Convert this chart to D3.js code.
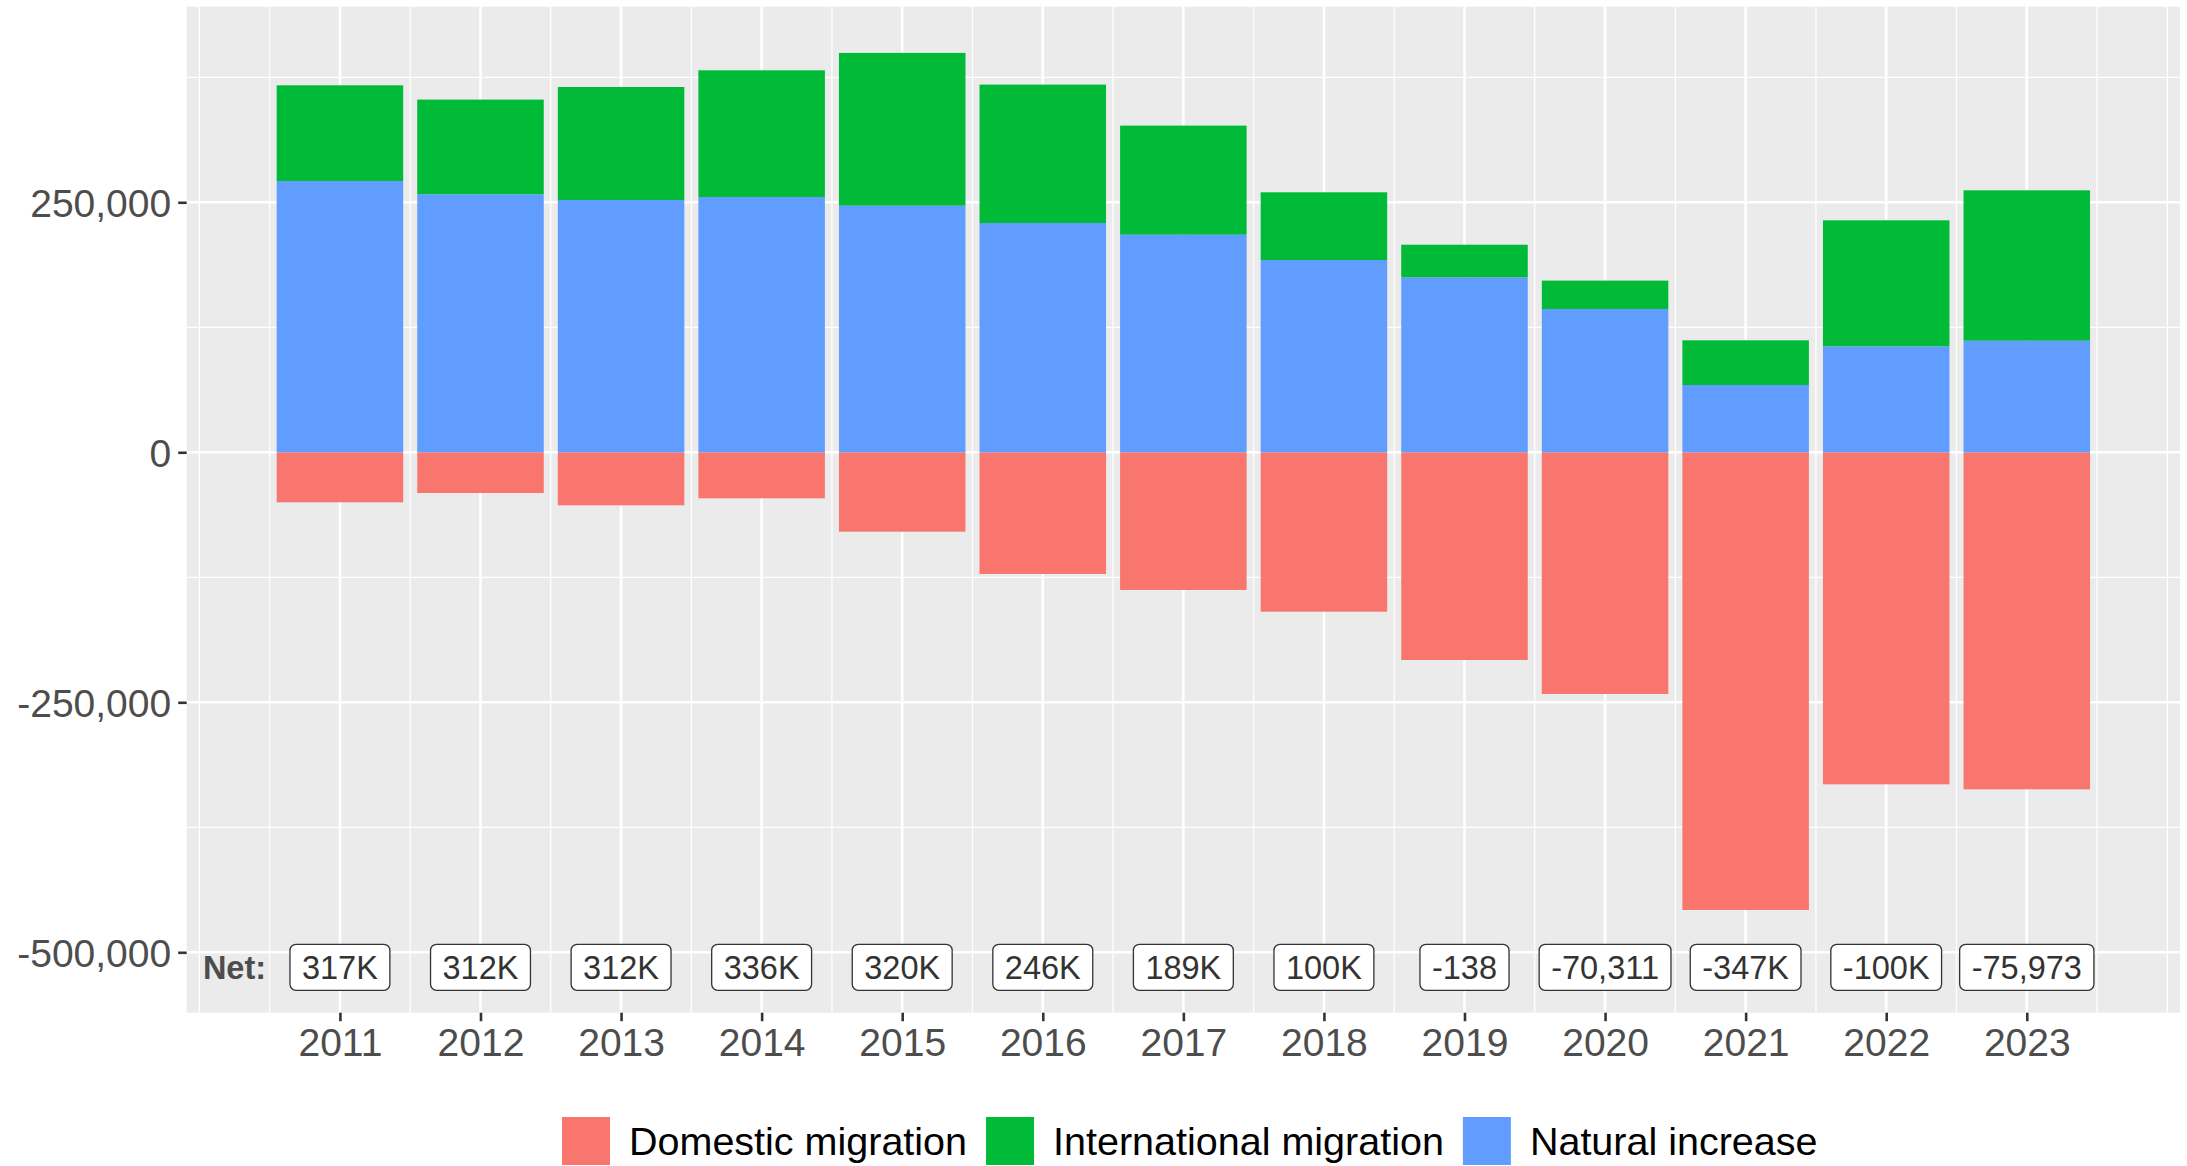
<!DOCTYPE html>
<html>
<head>
<meta charset="utf-8">
<script src="https://cdn.jsdelivr.net/npm/d3@7"></script>
<style>
  body { margin: 0; background: #fff; }
  text { font-family: "Liberation Sans", Arial, sans-serif; }
</style>
</head>
<body>
<script>
// data (people)
var years = [2011, 2012, 2013, 2014, 2015, 2016, 2017, 2018, 2019, 2020, 2021, 2022, 2023];
var naturalIncrease = [271300, 258000, 252300, 255300, 246600, 229300, 217600, 192300, 175000, 143300, 67300, 106000, 111600];
var internationalMigration = [95700, 94700, 113000, 126700, 152800, 138400, 109100, 67700, 32600, 28400, 44700, 126000, 150400];
var domesticMigration = [-50000, -40700, -53000, -46000, -79400, -121700, -137700, -159400, -207700, -241700, -457700, -332000, -337000];
var netLabels = ["317K", "312K", "312K", "336K", "320K", "246K", "189K", "100K", "-138", "-70,311", "-347K", "-100K", "-75,973"];
var seriesNames = ["Domestic migration", "International migration", "Natural increase"];
var seriesColors = ["#F8766D", "#00BA38", "#619CFF"];
var yTicks = [-500000, -250000, 0, 250000];
var yMinor = [-375000, -125000, 125000, 375000];

var W = 2187, H = 1166;
// panel edges ("top" is reserved on window, so prefixed names)
var pL = 186.7, pR = 2180, pT = 6.7, pB = 1012.7;

var svg = d3.select('body').append('svg')
    .attr('width', W)
    .attr('height', H);

var x = d3.scaleLinear().domain([2009.91, 2024.09]).range([pL, pR]);
var y = d3.scaleLinear().domain([-560400, 445600]).range([pB, pT]);
var color = d3.scaleOrdinal().domain(seriesNames).range(seriesColors);

// panel + grid
svg.append('rect')
    .attr('x', pL).attr('y', pT)
    .attr('width', pR - pL).attr('height', pB - pT)
    .attr('fill', '#EBEBEB');

var xMinor = [2010, 2024].concat(d3.range(2010.5, 2024, 1));
var grid = svg.append('g');
function hLines(vals, w) {
    grid.selectAll(null).data(vals).enter().append('line')
        .attr('x1', pL).attr('x2', pR)
        .attr('y1', function (d) { return y(d); }).attr('y2', function (d) { return y(d); })
        .attr('stroke', '#fff').attr('stroke-width', w);
}
function vLines(vals, w) {
    grid.selectAll(null).data(vals).enter().append('line')
        .attr('y1', pT).attr('y2', pB)
        .attr('x1', function (d) { return x(d); }).attr('x2', function (d) { return x(d); })
        .attr('stroke', '#fff').attr('stroke-width', w);
}
hLines(yMinor, 1.3);
vLines(xMinor, 1.3);
hLines(yTicks, 2.6);
vLines(years, 2.6);

// stacked bars
var segs = [];
years.forEach(function (yr, i) {
    var nat = naturalIncrease[i];
    segs.push({ year: yr, y0: domesticMigration[i], y1: 0, key: seriesNames[0] });
    segs.push({ year: yr, y0: 0, y1: nat, key: seriesNames[2] });
    segs.push({ year: yr, y0: nat, y1: nat + internationalMigration[i], key: seriesNames[1] });
});
var bw = x(2011.45) - x(2010.55);
svg.append('g').selectAll('rect').data(segs).enter().append('rect')
    .attr('x', function (d) { return x(d.year - 0.45); })
    .attr('width', bw)
    .attr('y', function (d) { return y(d.y1); })
    .attr('height', function (d) { return y(d.y0) - y(d.y1); })
    .attr('fill', function (d) { return color(d.key); });

// net labels
var netY = -515000;
var lab = svg.append('g');
lab.append('text')
    .attr('x', x(2010.25)).attr('y', y(netY))
    .attr('text-anchor', 'middle').attr('dy', '0.36em')
    .attr('font-size', 32.5).attr('font-weight', 'bold').attr('fill', '#4D4D4D')
    .text('Net:');
years.forEach(function (yr, i) {
    var g = lab.append('g');
    var t = g.append('text')
        .attr('x', x(yr)).attr('y', y(netY))
        .attr('text-anchor', 'middle').attr('dy', '0.36em')
        .attr('font-size', 32.5).attr('fill', '#333')
        .text(netLabels[i]);
    var tw = t.node().getComputedTextLength();
    g.insert('rect', 'text')
        .attr('x', x(yr) - tw / 2 - 12).attr('y', y(netY) - 23)
        .attr('width', tw + 24).attr('height', 46)
        .attr('rx', 6).attr('ry', 6)
        .attr('fill', '#fff').attr('stroke', '#333').attr('stroke-width', 1.3);
});

// axes
var comma = d3.format(',');
var yAxis = svg.append('g')
    .attr('transform', 'translate(' + pL + ',0)')
    .call(d3.axisLeft(y).tickValues(yTicks).tickSize(8.5).tickPadding(7)
        .tickFormat(function (d) { return comma(d).replace('\u2212', '-'); }));
var xAxis = svg.append('g')
    .attr('transform', 'translate(0,' + pB + ')')
    .call(d3.axisBottom(x).tickValues(years).tickSize(8.5).tickPadding(7).tickFormat(d3.format('d')));
[yAxis, xAxis].forEach(function (a) {
    a.select('.domain').remove();
    a.selectAll('.tick line').attr('stroke', '#333').attr('stroke-width', 2.6);
    a.selectAll('.tick text').attr('fill', '#4D4D4D').attr('font-size', 39)
        .attr('font-family', '"Liberation Sans", Arial, sans-serif');
});
yAxis.selectAll('.tick text').attr('dy', '0.36em');
xAxis.selectAll('.tick text').attr('dy', '0.71em');

// legend
var legend = svg.append('g');
var lx = 562;
seriesNames.forEach(function (name) {
    legend.append('rect')
        .attr('x', lx).attr('y', 1117)
        .attr('width', 48).attr('height', 48)
        .attr('fill', color(name));
    var t = legend.append('text')
        .attr('x', lx + 48 + 19).attr('y', 1141)
        .attr('dy', '0.36em')
        .attr('font-size', 39.5).attr('fill', '#000')
        .text(name);
    lx += 48 + 19 + t.node().getComputedTextLength() + 19;
});
</script>
</body>
</html>
